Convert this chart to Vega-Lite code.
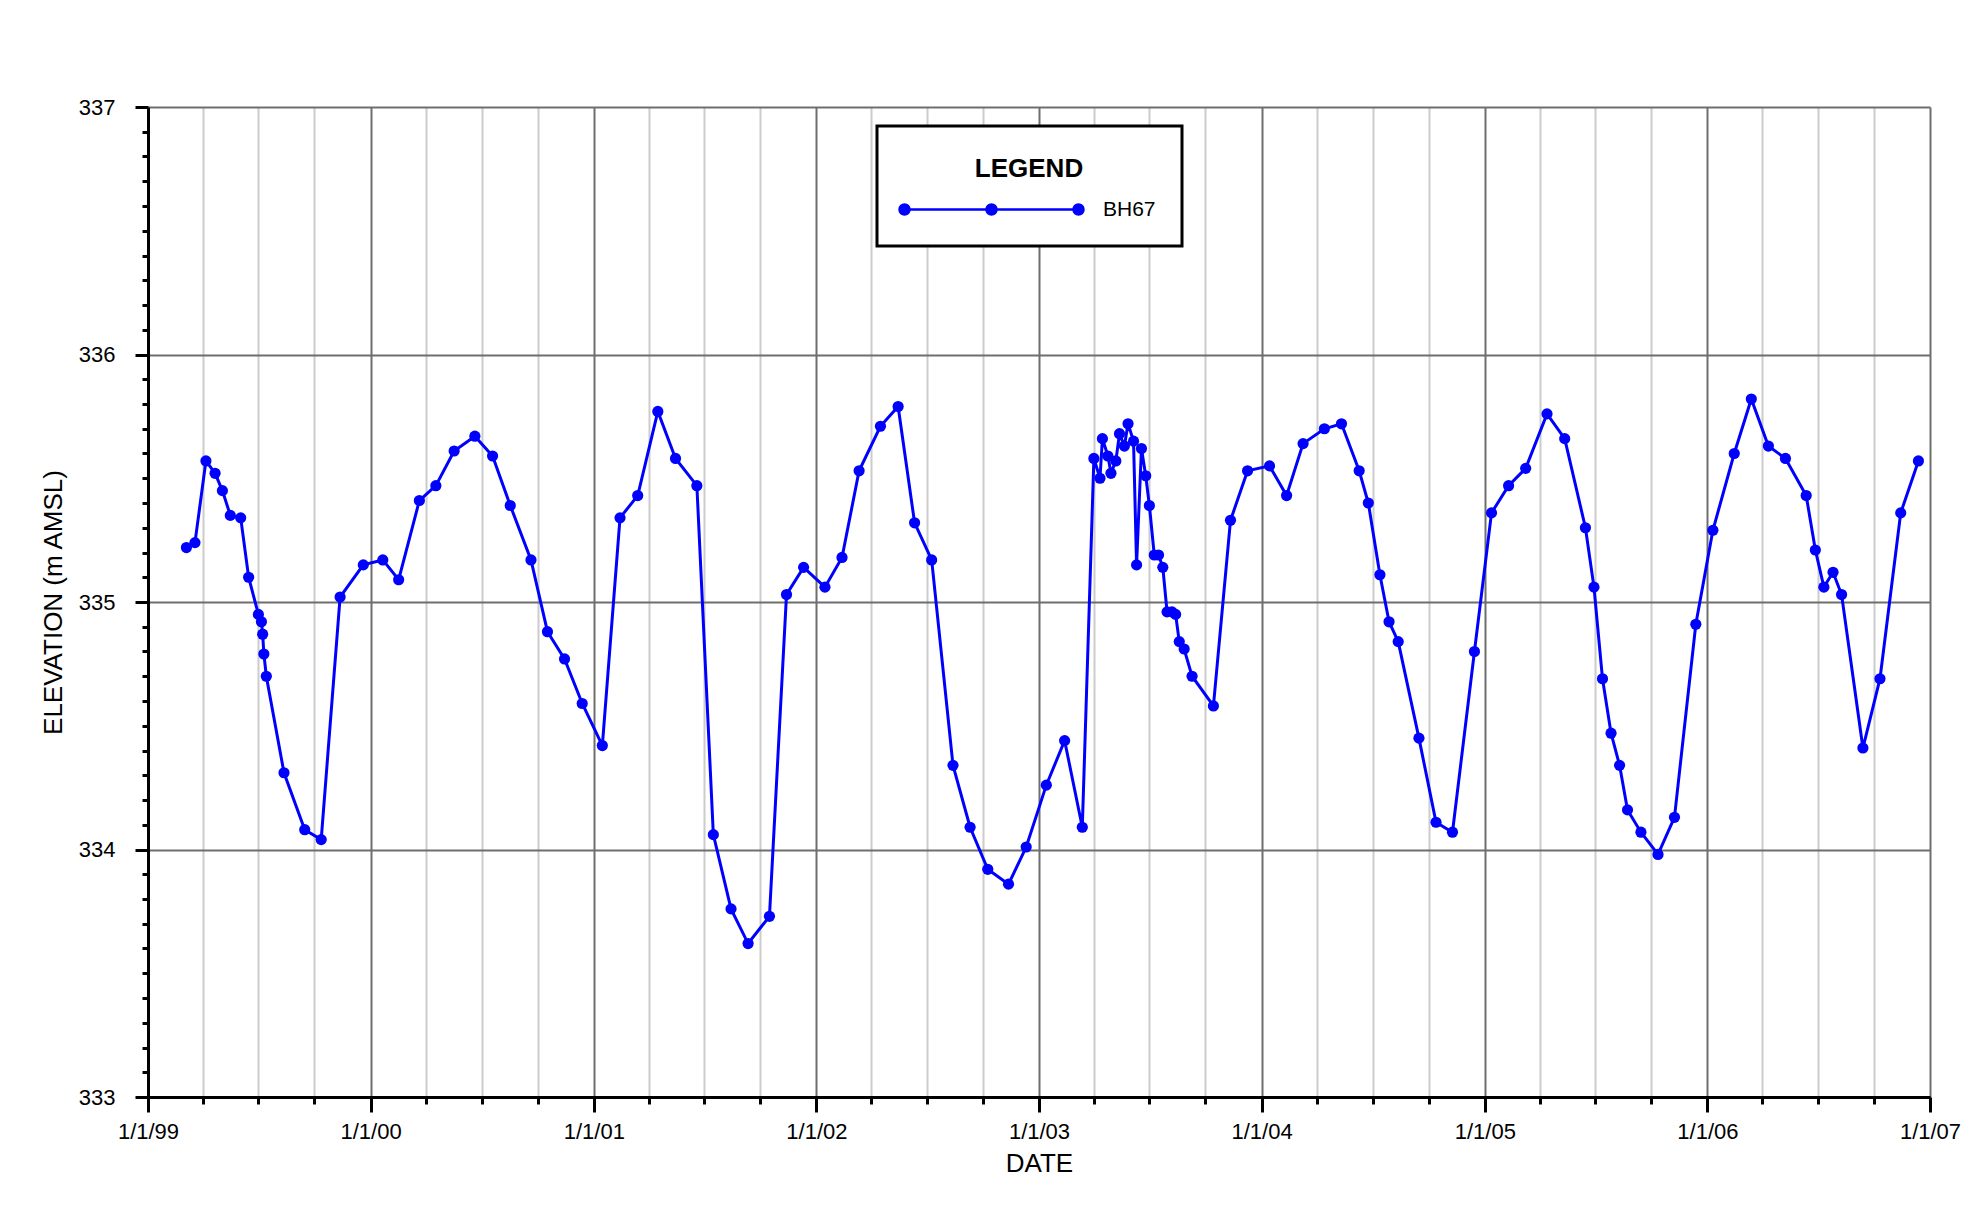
{
  "$schema": "https://vega.github.io/schema/vega-lite/v6.json",
  "width": 1782,
  "height": 990,
  "autosize": {"type": "none"},
  "padding": {"left": 148, "top": 107, "right": 48, "bottom": 123},
  "background": "#ffffff",
  "config": {
    "view": {"stroke": null},
    "font": "Liberation Sans, Arial, sans-serif",
    "axis": {"labelColor": "#000000", "titleColor": "#000000", "titleFontWeight": "normal", "labelFont": "Liberation Sans, Arial, sans-serif", "titleFont": "Liberation Sans, Arial, sans-serif"}
  },
  "data": {
    "values": [
      {"date": "1999-03-05", "elev": 335.22, "well": "BH67"},
      {"date": "1999-03-19", "elev": 335.24, "well": "BH67"},
      {"date": "1999-04-06", "elev": 335.57, "well": "BH67"},
      {"date": "1999-04-21", "elev": 335.52, "well": "BH67"},
      {"date": "1999-05-03", "elev": 335.45, "well": "BH67"},
      {"date": "1999-05-16", "elev": 335.35, "well": "BH67"},
      {"date": "1999-06-02", "elev": 335.34, "well": "BH67"},
      {"date": "1999-06-15", "elev": 335.10, "well": "BH67"},
      {"date": "1999-07-01", "elev": 334.95, "well": "BH67"},
      {"date": "1999-07-06", "elev": 334.92, "well": "BH67"},
      {"date": "1999-07-08", "elev": 334.87, "well": "BH67"},
      {"date": "1999-07-10", "elev": 334.79, "well": "BH67"},
      {"date": "1999-07-14", "elev": 334.70, "well": "BH67"},
      {"date": "1999-08-12", "elev": 334.31, "well": "BH67"},
      {"date": "1999-09-15", "elev": 334.08, "well": "BH67"},
      {"date": "1999-10-12", "elev": 334.04, "well": "BH67"},
      {"date": "1999-11-12", "elev": 335.02, "well": "BH67"},
      {"date": "1999-12-20", "elev": 335.15, "well": "BH67"},
      {"date": "2000-01-21", "elev": 335.17, "well": "BH67"},
      {"date": "2000-02-16", "elev": 335.09, "well": "BH67"},
      {"date": "2000-03-21", "elev": 335.41, "well": "BH67"},
      {"date": "2000-04-17", "elev": 335.47, "well": "BH67"},
      {"date": "2000-05-17", "elev": 335.61, "well": "BH67"},
      {"date": "2000-06-20", "elev": 335.67, "well": "BH67"},
      {"date": "2000-07-19", "elev": 335.59, "well": "BH67"},
      {"date": "2000-08-17", "elev": 335.39, "well": "BH67"},
      {"date": "2000-09-20", "elev": 335.17, "well": "BH67"},
      {"date": "2000-10-17", "elev": 334.88, "well": "BH67"},
      {"date": "2000-11-14", "elev": 334.77, "well": "BH67"},
      {"date": "2000-12-13", "elev": 334.59, "well": "BH67"},
      {"date": "2001-01-15", "elev": 334.42, "well": "BH67"},
      {"date": "2001-02-13", "elev": 335.34, "well": "BH67"},
      {"date": "2001-03-14", "elev": 335.43, "well": "BH67"},
      {"date": "2001-04-16", "elev": 335.77, "well": "BH67"},
      {"date": "2001-05-15", "elev": 335.58, "well": "BH67"},
      {"date": "2001-06-19", "elev": 335.47, "well": "BH67"},
      {"date": "2001-07-16", "elev": 334.06, "well": "BH67"},
      {"date": "2001-08-14", "elev": 333.76, "well": "BH67"},
      {"date": "2001-09-11", "elev": 333.62, "well": "BH67"},
      {"date": "2001-10-16", "elev": 333.73, "well": "BH67"},
      {"date": "2001-11-13", "elev": 335.03, "well": "BH67"},
      {"date": "2001-12-11", "elev": 335.14, "well": "BH67"},
      {"date": "2002-01-15", "elev": 335.06, "well": "BH67"},
      {"date": "2002-02-12", "elev": 335.18, "well": "BH67"},
      {"date": "2002-03-12", "elev": 335.53, "well": "BH67"},
      {"date": "2002-04-16", "elev": 335.71, "well": "BH67"},
      {"date": "2002-05-15", "elev": 335.79, "well": "BH67"},
      {"date": "2002-06-11", "elev": 335.32, "well": "BH67"},
      {"date": "2002-07-09", "elev": 335.17, "well": "BH67"},
      {"date": "2002-08-13", "elev": 334.34, "well": "BH67"},
      {"date": "2002-09-10", "elev": 334.09, "well": "BH67"},
      {"date": "2002-10-09", "elev": 333.92, "well": "BH67"},
      {"date": "2002-11-12", "elev": 333.86, "well": "BH67"},
      {"date": "2002-12-11", "elev": 334.01, "well": "BH67"},
      {"date": "2003-01-13", "elev": 334.26, "well": "BH67"},
      {"date": "2003-02-12", "elev": 334.44, "well": "BH67"},
      {"date": "2003-03-13", "elev": 334.09, "well": "BH67"},
      {"date": "2003-04-01", "elev": 335.58, "well": "BH67"},
      {"date": "2003-04-11", "elev": 335.50, "well": "BH67"},
      {"date": "2003-04-15", "elev": 335.66, "well": "BH67"},
      {"date": "2003-04-24", "elev": 335.59, "well": "BH67"},
      {"date": "2003-04-29", "elev": 335.52, "well": "BH67"},
      {"date": "2003-05-07", "elev": 335.57, "well": "BH67"},
      {"date": "2003-05-13", "elev": 335.68, "well": "BH67"},
      {"date": "2003-05-21", "elev": 335.63, "well": "BH67"},
      {"date": "2003-05-27", "elev": 335.72, "well": "BH67"},
      {"date": "2003-06-05", "elev": 335.65, "well": "BH67"},
      {"date": "2003-06-10", "elev": 335.15, "well": "BH67"},
      {"date": "2003-06-18", "elev": 335.62, "well": "BH67"},
      {"date": "2003-06-25", "elev": 335.51, "well": "BH67"},
      {"date": "2003-07-01", "elev": 335.39, "well": "BH67"},
      {"date": "2003-07-09", "elev": 335.19, "well": "BH67"},
      {"date": "2003-07-16", "elev": 335.19, "well": "BH67"},
      {"date": "2003-07-23", "elev": 335.14, "well": "BH67"},
      {"date": "2003-07-30", "elev": 334.96, "well": "BH67"},
      {"date": "2003-08-07", "elev": 334.96, "well": "BH67"},
      {"date": "2003-08-13", "elev": 334.95, "well": "BH67"},
      {"date": "2003-08-19", "elev": 334.84, "well": "BH67"},
      {"date": "2003-08-27", "elev": 334.81, "well": "BH67"},
      {"date": "2003-09-09", "elev": 334.70, "well": "BH67"},
      {"date": "2003-10-14", "elev": 334.58, "well": "BH67"},
      {"date": "2003-11-11", "elev": 335.33, "well": "BH67"},
      {"date": "2003-12-09", "elev": 335.53, "well": "BH67"},
      {"date": "2004-01-14", "elev": 335.55, "well": "BH67"},
      {"date": "2004-02-11", "elev": 335.43, "well": "BH67"},
      {"date": "2004-03-09", "elev": 335.64, "well": "BH67"},
      {"date": "2004-04-13", "elev": 335.70, "well": "BH67"},
      {"date": "2004-05-11", "elev": 335.72, "well": "BH67"},
      {"date": "2004-06-09", "elev": 335.53, "well": "BH67"},
      {"date": "2004-06-24", "elev": 335.40, "well": "BH67"},
      {"date": "2004-07-13", "elev": 335.11, "well": "BH67"},
      {"date": "2004-07-28", "elev": 334.92, "well": "BH67"},
      {"date": "2004-08-12", "elev": 334.84, "well": "BH67"},
      {"date": "2004-09-15", "elev": 334.45, "well": "BH67"},
      {"date": "2004-10-13", "elev": 334.11, "well": "BH67"},
      {"date": "2004-11-09", "elev": 334.07, "well": "BH67"},
      {"date": "2004-12-15", "elev": 334.80, "well": "BH67"},
      {"date": "2005-01-12", "elev": 335.36, "well": "BH67"},
      {"date": "2005-02-09", "elev": 335.47, "well": "BH67"},
      {"date": "2005-03-09", "elev": 335.54, "well": "BH67"},
      {"date": "2005-04-13", "elev": 335.76, "well": "BH67"},
      {"date": "2005-05-12", "elev": 335.66, "well": "BH67"},
      {"date": "2005-06-15", "elev": 335.30, "well": "BH67"},
      {"date": "2005-06-29", "elev": 335.06, "well": "BH67"},
      {"date": "2005-07-13", "elev": 334.69, "well": "BH67"},
      {"date": "2005-07-27", "elev": 334.47, "well": "BH67"},
      {"date": "2005-08-10", "elev": 334.34, "well": "BH67"},
      {"date": "2005-08-23", "elev": 334.16, "well": "BH67"},
      {"date": "2005-09-14", "elev": 334.07, "well": "BH67"},
      {"date": "2005-10-12", "elev": 333.98, "well": "BH67"},
      {"date": "2005-11-08", "elev": 334.13, "well": "BH67"},
      {"date": "2005-12-13", "elev": 334.91, "well": "BH67"},
      {"date": "2006-01-10", "elev": 335.29, "well": "BH67"},
      {"date": "2006-02-14", "elev": 335.60, "well": "BH67"},
      {"date": "2006-03-14", "elev": 335.82, "well": "BH67"},
      {"date": "2006-04-11", "elev": 335.63, "well": "BH67"},
      {"date": "2006-05-09", "elev": 335.58, "well": "BH67"},
      {"date": "2006-06-12", "elev": 335.43, "well": "BH67"},
      {"date": "2006-06-27", "elev": 335.21, "well": "BH67"},
      {"date": "2006-07-11", "elev": 335.06, "well": "BH67"},
      {"date": "2006-07-26", "elev": 335.12, "well": "BH67"},
      {"date": "2006-08-09", "elev": 335.03, "well": "BH67"},
      {"date": "2006-09-13", "elev": 334.41, "well": "BH67"},
      {"date": "2006-10-11", "elev": 334.69, "well": "BH67"},
      {"date": "2006-11-14", "elev": 335.36, "well": "BH67"},
      {"date": "2006-12-13", "elev": 335.57, "well": "BH67"}
    ]
  },
  "layer": [
    {
      "mark": {"type": "line", "strokeWidth": 3},
      "encoding": {
        "x": {
          "field": "date", "type": "temporal",
          "scale": {"type": "utc", "domain": [{"year": 1999, "month": 1, "date": 1, "utc": true}, {"year": 2007, "month": 1, "date": 1, "utc": true}], "nice": false},
          "axis": {
            "orient": "bottom", "title": "DATE", "titleFontSize": 26, "titleY": 66, "titleBaseline": "middle",
            "values": [
              {"year": 1999, "month": 1, "date": 1, "utc": true}, {"year": 2000, "month": 1, "date": 1, "utc": true},
              {"year": 2001, "month": 1, "date": 1, "utc": true}, {"year": 2002, "month": 1, "date": 1, "utc": true},
              {"year": 2003, "month": 1, "date": 1, "utc": true}, {"year": 2004, "month": 1, "date": 1, "utc": true},
              {"year": 2005, "month": 1, "date": 1, "utc": true}, {"year": 2006, "month": 1, "date": 1, "utc": true},
              {"year": 2007, "month": 1, "date": 1, "utc": true}
            ],
            "labelExpr": "utcFormat(datum.value, '%-m/%-d/%y')",
            "labelFontSize": 22, "labelPadding": 9, "labelFlush": false, "labelOverlap": false,
            "tickSize": 15, "tickWidth": 3, "tickColor": "#000000",
            "domain": true, "domainColor": "#000000", "domainWidth": 3,
            "grid": true, "gridColor": "#6e6e6e", "gridWidth": 2
          }
        },
        "y": {
          "field": "elev", "type": "quantitative",
          "scale": {"domain": [333, 337], "nice": false, "zero": false},
          "axis": {
            "orient": "left", "title": "ELEVATION (m AMSL)", "titleFontSize": 26, "titleX": -95, "titleY": 495, "titleAngle": -90, "titleAlign": "center", "titleBaseline": "middle",
            "values": [333, 334, 335, 336, 337], "format": "d",
            "labelFontSize": 22, "labelPadding": 20, "labelOverlap": false,
            "tickSize": 13, "tickWidth": 3, "tickColor": "#000000",
            "domain": true, "domainColor": "#000000", "domainWidth": 3,
            "grid": true, "gridColor": "#6e6e6e", "gridWidth": 2
          }
        },
        "color": {
          "field": "well", "type": "nominal",
          "scale": {"range": ["#0000ff"]},
          "legend": {
            "title": "LEGEND", "orient": "none", "legendX": 729, "legendY": 19, "direction": "vertical",
            "padding": 26, "strokeColor": "#000000", "fillColor": "#ffffff",
            "titleFontSize": 26, "titleFontWeight": "bold", "titleColor": "#000000", "titleAnchor": "middle", "titlePadding": 21,
            "labelFontSize": 21, "labelColor": "#000000", "labelOffset": 179,
            "symbolType": "M-1.8,0L33,0M-2.8,0A1,1 0 1 0 -0.8,0A1,1 0 1 0 -2.8,0ZM-2.55,0A0.75,0.75 0 1 0 -1.05,0A0.75,0.75 0 1 0 -2.55,0ZM-2.3,0A0.5,0.5 0 1 0 -1.3,0A0.5,0.5 0 1 0 -2.3,0ZM-2.05,0A0.25,0.25 0 1 0 -1.55,0A0.25,0.25 0 1 0 -2.05,0ZM14.6,0A1,1 0 1 0 16.6,0A1,1 0 1 0 14.6,0ZM14.85,0A0.75,0.75 0 1 0 16.35,0A0.75,0.75 0 1 0 14.85,0ZM15.1,0A0.5,0.5 0 1 0 16.1,0A0.5,0.5 0 1 0 15.1,0ZM15.35,0A0.25,0.25 0 1 0 15.85,0A0.25,0.25 0 1 0 15.35,0ZM32,0A1,1 0 1 0 34,0A1,1 0 1 0 32,0ZM32.25,0A0.75,0.75 0 1 0 33.75,0A0.75,0.75 0 1 0 32.25,0ZM32.5,0A0.5,0.5 0 1 0 33.5,0A0.5,0.5 0 1 0 32.5,0ZM32.75,0A0.25,0.25 0 1 0 33.25,0A0.25,0.25 0 1 0 32.75,0Z",
            "symbolSize": 100, "symbolStrokeWidth": 2.5, "symbolStrokeColor": "#0000ff", "symbolFillColor": "#0000ff",
            "encode": {
              "legend": {
                "update": {
                  "strokeWidth": {"value": 3}
                }
              },
              "title": {
                "update": {
                  "dy": {"value": 4}
                }
              },
              "symbols": {
                "update": {
                  "fill": {"value": "#0000ff"},
                  "stroke": {"value": "#0000ff"},
                  "strokeWidth": {"value": 2.5},
                  "opacity": {"value": 1}
                }
              }
            }
          }
        }
      }
    },
    {
      "mark": {"type": "point", "filled": true, "size": 125, "opacity": 1, "color": "#0000ff"},
      "encoding": {
        "x": {
          "field": "date", "type": "temporal",
          "scale": {"type": "utc", "domain": [{"year": 1999, "month": 1, "date": 1, "utc": true}, {"year": 2007, "month": 1, "date": 1, "utc": true}], "nice": false},
          "axis": {
            "orient": "bottom", "title": null, "labels": false, "domain": false,
            "values": [
              {"year": 1999, "month": 4, "date": 1, "utc": true}, {"year": 1999, "month": 7, "date": 1, "utc": true}, {"year": 1999, "month": 10, "date": 1, "utc": true},
              {"year": 2000, "month": 4, "date": 1, "utc": true}, {"year": 2000, "month": 7, "date": 1, "utc": true}, {"year": 2000, "month": 10, "date": 1, "utc": true},
              {"year": 2001, "month": 4, "date": 1, "utc": true}, {"year": 2001, "month": 7, "date": 1, "utc": true}, {"year": 2001, "month": 10, "date": 1, "utc": true},
              {"year": 2002, "month": 4, "date": 1, "utc": true}, {"year": 2002, "month": 7, "date": 1, "utc": true}, {"year": 2002, "month": 10, "date": 1, "utc": true},
              {"year": 2003, "month": 4, "date": 1, "utc": true}, {"year": 2003, "month": 7, "date": 1, "utc": true}, {"year": 2003, "month": 10, "date": 1, "utc": true},
              {"year": 2004, "month": 4, "date": 1, "utc": true}, {"year": 2004, "month": 7, "date": 1, "utc": true}, {"year": 2004, "month": 10, "date": 1, "utc": true},
              {"year": 2005, "month": 4, "date": 1, "utc": true}, {"year": 2005, "month": 7, "date": 1, "utc": true}, {"year": 2005, "month": 10, "date": 1, "utc": true},
              {"year": 2006, "month": 4, "date": 1, "utc": true}, {"year": 2006, "month": 7, "date": 1, "utc": true}, {"year": 2006, "month": 10, "date": 1, "utc": true}
            ],
            "tickSize": 7, "tickWidth": 3, "tickColor": "#000000",
            "grid": true, "gridColor": "#cccccc", "gridWidth": 2
          }
        },
        "y": {
          "field": "elev", "type": "quantitative",
          "scale": {"domain": [333, 337], "nice": false, "zero": false},
          "axis": {
            "orient": "left", "title": null, "labels": false, "domain": false, "grid": false,
            "values": [333.1, 333.2, 333.3, 333.4, 333.5, 333.6, 333.7, 333.8, 333.9,
                       334.1, 334.2, 334.3, 334.4, 334.5, 334.6, 334.7, 334.8, 334.9,
                       335.1, 335.2, 335.3, 335.4, 335.5, 335.6, 335.7, 335.8, 335.9,
                       336.1, 336.2, 336.3, 336.4, 336.5, 336.6, 336.7, 336.8, 336.9],
            "tickSize": 6, "tickWidth": 3, "tickColor": "#000000"
          }
        }
      }
    }
  ],
  "resolve": {"axis": {"x": "independent", "y": "independent"}}
}
